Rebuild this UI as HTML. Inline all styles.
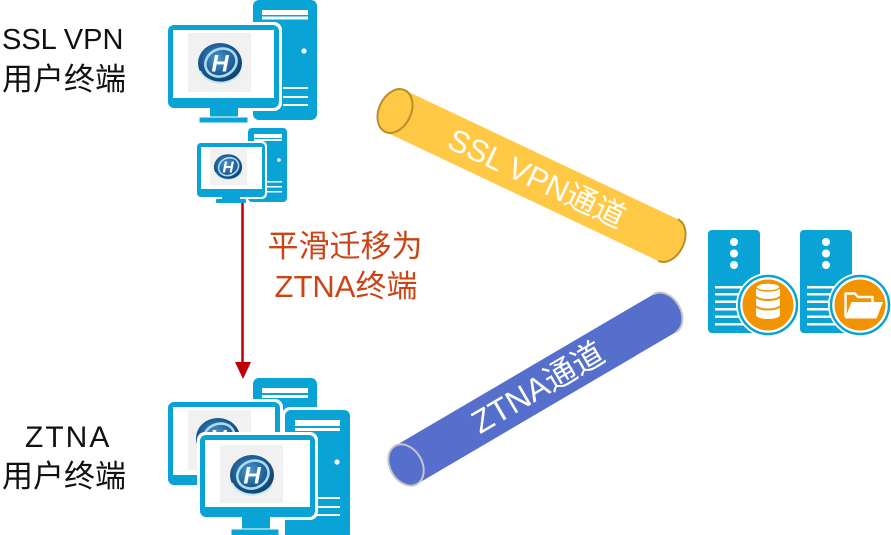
<!DOCTYPE html>
<html>
<head>
<meta charset="utf-8">
<style>
  html,body{margin:0;padding:0;background:#fff;}
  body{width:891px;height:535px;overflow:hidden;}
  svg{display:block;}
  text{font-family:"Liberation Sans","Noto Sans CJK SC",sans-serif;}
</style>
</head>
<body>
<svg width="891" height="535" viewBox="0 0 891 535" xmlns="http://www.w3.org/2000/svg">
  <defs>
    <radialGradient id="lg" cx="0.45" cy="0.4" r="0.6">
      <stop offset="0" stop-color="#4C97CC"/>
      <stop offset="0.6" stop-color="#1F5F96"/>
      <stop offset="1" stop-color="#103E66"/>
    </radialGradient>
    <g id="logo">
      <ellipse cx="0" cy="0" rx="22" ry="20" fill="url(#lg)"/>
      <ellipse cx="1" cy="0" rx="16" ry="13.5" fill="none" stroke="#A9DCF3" stroke-width="2.6" transform="rotate(-25)"/>
      <path d="M-20,8 A22,18 0 0 0 20,10" fill="none" stroke="#BFE6F7" stroke-width="2"/>
      <text x="0" y="8.5" font-size="24" font-weight="bold" font-style="italic" fill="#ffffff" text-anchor="middle">H</text>
    </g>
  </defs>

  <!-- Left labels -->
  <text x="2" y="49" font-size="29" fill="#111">SSL VPN</text>
  <text x="2" y="90" font-size="31" fill="#111">用户终端</text>
  <text x="25" y="447" font-size="30" fill="#111" letter-spacing="2">ZTNA</text>
  <text x="2" y="487" font-size="31" fill="#111">用户终端</text>

  <!-- ===== Top big computer ===== -->
  <rect x="253" y="0" width="64" height="120" rx="6" fill="#0AA3D6"/>
  <rect x="262" y="10" width="46" height="5" fill="#fff"/>
  <rect x="262" y="16.5" width="46" height="3" fill="#fff"/>
  <circle cx="304" cy="51" r="2.6" fill="#fff"/>
  <rect x="283" y="87" width="25" height="2" fill="#fff"/>
  <rect x="283" y="96" width="25" height="2" fill="#fff"/>
  <rect x="283" y="104" width="25" height="2" fill="#fff"/>
  <rect x="165" y="22" width="117" height="89" rx="8" fill="#fff"/>
  <rect x="168" y="25" width="111" height="83" rx="6" fill="#0AA3D6"/>
  <rect x="173" y="30" width="101" height="68" fill="#fff"/>
  <rect x="188" y="33" width="63" height="59" fill="#F1F1F1"/>
  <use href="#logo" transform="translate(220,63)"/>
  <rect x="210" y="107" width="28" height="11" fill="#0AA3D6"/>
  <rect x="199" y="117" width="49" height="6" rx="1" fill="#0AA3D6" stroke="#fff" stroke-width="1"/>

  <!-- ===== Top small computer ===== -->
  <rect x="248" y="128" width="39" height="74" rx="4" fill="#0AA3D6"/>
  <rect x="254" y="134" width="28" height="4" fill="#fff"/>
  <rect x="254" y="139" width="28" height="2" fill="#fff"/>
  <circle cx="279" cy="160" r="1.8" fill="#fff"/>
  <rect x="266" y="181" width="16" height="1.5" fill="#fff"/>
  <rect x="266" y="186" width="16" height="1.5" fill="#fff"/>
  <rect x="266" y="191" width="16" height="1.5" fill="#fff"/>
  <rect x="195" y="141" width="72" height="58" rx="5" fill="#fff"/>
  <rect x="197" y="143" width="68" height="54" rx="4" fill="#0AA3D6"/>
  <rect x="201" y="147" width="61" height="42" fill="#fff"/>
  <rect x="210" y="149" width="37" height="36" fill="#F1F1F1"/>
  <use href="#logo" transform="translate(228,167) scale(0.64)"/>
  <rect x="222" y="196" width="18" height="4" fill="#0AA3D6"/>
  <rect x="216" y="199" width="30" height="4" rx="1" fill="#0AA3D6"/>

  <!-- Arrow -->
  <line x1="242.5" y1="203" x2="242.5" y2="364" stroke="#C00000" stroke-width="2.5"/>
  <polygon points="235,362 251,362 243,379" fill="#C00000"/>

  <!-- Red label -->
  <text x="345" y="257" font-size="31" fill="#CC4416" text-anchor="middle">平滑迁移为</text>
  <text x="346" y="297" font-size="31" fill="#CC4416" text-anchor="middle">ZTNA终端</text>

  <!-- ===== Bottom computers ===== -->
  <!-- back tower -->
  <rect x="253" y="378" width="64" height="130" rx="6" fill="#0AA3D6"/>
  <rect x="262" y="388" width="46" height="5" fill="#fff"/>
  <rect x="262" y="395" width="46" height="3" fill="#fff"/>
  <!-- back monitor -->
  <rect x="165" y="399" width="118" height="89" rx="8" fill="#fff"/>
  <rect x="168" y="402" width="112" height="83" rx="6" fill="#0AA3D6"/>
  <rect x="173" y="407" width="102" height="68" fill="#fff"/>
  <rect x="188" y="410" width="63" height="60" fill="#F1F1F1"/>
  <use href="#logo" transform="translate(218,438)"/>
  <!-- front tower -->
  <rect x="282" y="407" width="71" height="135" rx="8" fill="#fff"/>
  <rect x="285" y="410" width="65" height="130" rx="6" fill="#0AA3D6"/>
  <rect x="295" y="420" width="45" height="6" fill="#fff"/>
  <rect x="295" y="428" width="45" height="3" fill="#fff"/>
  <circle cx="337" cy="462" r="2.6" fill="#fff"/>
  <rect x="315" y="497" width="25" height="2" fill="#fff"/>
  <rect x="315" y="506" width="25" height="2" fill="#fff"/>
  <rect x="315" y="514" width="25" height="2" fill="#fff"/>
  <!-- front monitor -->
  <rect x="197" y="432" width="121" height="88" rx="8" fill="#fff"/>
  <rect x="200" y="435" width="115" height="82" rx="6" fill="#0AA3D6"/>
  <rect x="205" y="440" width="105" height="67" fill="#fff"/>
  <rect x="220" y="445" width="63" height="58" fill="#F1F1F1"/>
  <use href="#logo" transform="translate(252,475)"/>
  <rect x="242" y="516" width="28" height="14" fill="#0AA3D6"/>
  <rect x="231" y="529" width="48" height="7" rx="1" fill="#0AA3D6" stroke="#fff" stroke-width="1"/>

  <!-- ===== Yellow SSL VPN tunnel ===== -->
  <g transform="translate(395,111) rotate(25.3)">
    <path d="M0,-23 L302,-23 A16,23 0 0 1 302,23 L0,23 Z" fill="#FFC845"/>
    <path d="M302,-23 A16,23 0 0 1 302,23" fill="none" stroke="#B98F2C" stroke-width="2"/>
    <ellipse cx="0" cy="0" rx="16" ry="23" fill="#FFC845" stroke="#B98F2C" stroke-width="2"/>
    <text x="157" y="11" font-size="31" fill="#fff" text-anchor="middle">SSL VPN通道</text>
  </g>

  <!-- ===== Blue ZTNA tunnel ===== -->
  <g transform="translate(406,465) rotate(-30.4)">
    <path d="M0,-22 L300,-22 A16,22 0 0 1 300,22 L0,22 Z" fill="#566FCD"/>
    <path d="M300,-22 A16,22 0 0 1 300,22" fill="none" stroke="#C6C6C6" stroke-width="2"/>
    <ellipse cx="0" cy="0" rx="16" ry="22" fill="#566FCD" stroke="#C6C6C6" stroke-width="2"/>
    <text x="153" y="11" font-size="32" fill="#fff" text-anchor="middle">ZTNA通道</text>
  </g>

  <!-- ===== Servers ===== -->
  <!-- server 1 -->
  <rect x="708" y="230" width="52" height="103" rx="4" fill="#0AA3D6"/>
  <circle cx="734" cy="242" r="4" fill="#fff"/>
  <circle cx="734" cy="253.5" r="4" fill="#fff"/>
  <circle cx="734" cy="265" r="4" fill="#fff"/>
  <g fill="#fff">
    <rect x="715" y="286" width="36" height="2.5"/>
    <rect x="715" y="293" width="36" height="2.5"/>
    <rect x="715" y="300.5" width="36" height="2.5"/>
    <rect x="715" y="308" width="36" height="2.5"/>
    <rect x="715" y="315.5" width="36" height="2.5"/>
    <rect x="715" y="323" width="36" height="2.5"/>
  </g>
  <circle cx="768" cy="305" r="32" fill="#fff"/>
  <circle cx="768" cy="305" r="29" fill="none" stroke="#0AA3D6" stroke-width="2.5"/>
  <circle cx="768" cy="305" r="25.5" fill="#F29300"/>
  <!-- database icon -->
  <path d="M756,287 L756,315 A12,4 0 0 0 780,315 L780,287 Z" fill="#fff"/>
  <ellipse cx="768" cy="287" rx="12" ry="4" fill="#fff" stroke="#F29300" stroke-width="1.4"/>
  <path d="M756,296 A12,4 0 0 0 780,296" fill="none" stroke="#F29300" stroke-width="2"/>
  <path d="M756,305.5 A12,4 0 0 0 780,305.5" fill="none" stroke="#F29300" stroke-width="2"/>

  <!-- server 2 -->
  <rect x="800" y="230" width="52" height="103" rx="4" fill="#0AA3D6"/>
  <circle cx="826" cy="242" r="4" fill="#fff"/>
  <circle cx="826" cy="253.5" r="4" fill="#fff"/>
  <circle cx="826" cy="265" r="4" fill="#fff"/>
  <g fill="#fff">
    <rect x="807" y="286" width="36" height="2.5"/>
    <rect x="807" y="293" width="36" height="2.5"/>
    <rect x="807" y="300.5" width="36" height="2.5"/>
    <rect x="807" y="308" width="36" height="2.5"/>
    <rect x="807" y="315.5" width="36" height="2.5"/>
    <rect x="807" y="323" width="36" height="2.5"/>
  </g>
  <circle cx="860" cy="305" r="32" fill="#fff"/>
  <circle cx="860" cy="305" r="29" fill="none" stroke="#0AA3D6" stroke-width="2.5"/>
  <circle cx="860" cy="305" r="25.5" fill="#F29300"/>
  <!-- folder icon -->
  <path d="M845.5,317 V293.5 H855 L858,297 H872.5 V302" fill="none" stroke="#fff" stroke-width="2.4" stroke-linejoin="round"/>
  <path d="M845,318.5 L851.5,302 H883 L876.5,318.5 Z" fill="#fff"/>
</svg>
</body>
</html>
